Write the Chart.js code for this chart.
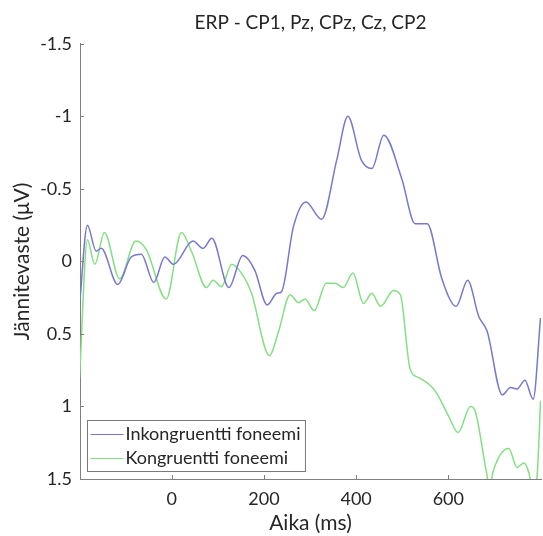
<!DOCTYPE html>
<html>
<head>
<meta charset="utf-8">
<script src="https://cdn.jsdelivr.net/npm/chart.js@4.4.1/dist/chart.umd.min.js"></script>
<style>
  html, body { margin: 0; padding: 0; background: #fff; }
  #wrap { width: 543px; height: 536px; }
</style>
</head>
<body>
<div id="wrap"><canvas id="erpChart" width="543" height="536"></canvas></div>
<script>
// Time (ms) and amplitude (uV), negative is up
const timeIncongruent = [-200, -183, -164, -153, -117, -88, -66, -39, -15, 4, 46, 68, 87, 124, 154, 180,
  207, 228, 238, 264, 291, 325, 358, 382, 411, 434, 460, 499, 528, 554, 586, 617, 642, 666, 684,
  717, 735, 749, 766, 784, 800];
const ampIncongruent = [0.30, -0.25, -0.07, -0.09, 0.16, -0.03, -0.05, 0.145, -0.03, 0.02, -0.14, -0.09, -0.16, 0.18, -0.04, 0.06,
  0.30, 0.22, 0.21, -0.24, -0.41, -0.29, -0.70, -1.0, -0.70, -0.64, -0.87, -0.57, -0.26, -0.26, 0.12, 0.31, 0.13, 0.38, 0.48,
  0.92, 0.87, 0.88, 0.82, 0.95, 0.39];

const timeCongruent = [-200, -183, -167, -146, -113, -78, -55, -12, 21, 44, 75, 90, 108, 130, 153, 173,
  212, 231, 257, 275, 289, 309, 335, 354, 372, 393, 416, 434, 453, 481, 496, 517, 535, 561, 575,
  601, 621, 648, 659, 683, 690, 697, 731, 749, 764, 775, 784, 793, 800];
const ampCongruent = [0.80, -0.15, 0.02, -0.20, 0.12, -0.14, -0.08, 0.26, -0.20, -0.06, 0.18, 0.13, 0.175, 0.02, 0.09, 0.22,
  0.65, 0.49, 0.23, 0.285, 0.26, 0.34, 0.15, 0.15, 0.18, 0.08, 0.29, 0.22, 0.31, 0.20, 0.23, 0.74, 0.80, 0.855, 0.91,
  1.07, 1.18, 1.0, 1.04, 1.46, 1.56, 1.45, 1.29, 1.42, 1.39, 1.46, 1.6, 1.46, 0.96];

const seriesLabels = ["Inkongruentti foneemi", "Kongruentti foneemi"];
const seriesColors = ["#7878cc", "#84df84"];
const xTickValues = [0, 200, 400, 600];
const yTickValues = [-1.5, -1, -0.5, 0, 0.5, 1, 1.5];

const FONT = "Lato, 'Open Sans', sans-serif";
const TEXT = "#262626";
const AXIS = "#808080";

function toPoints(xs, ys) {
  return xs.map((t, i) => ({ x: t, y: ys[i] }));
}

// MATLAB style ticks pointing into the plot
const inwardTicks = {
  id: "inwardTicks",
  afterDatasetsDraw(chart) {
    const { ctx, chartArea, scales } = chart;
    ctx.save();
    ctx.strokeStyle = AXIS;
    ctx.lineWidth = 1;
    ctx.beginPath();
    xTickValues.forEach((v) => {
      const px = Math.round(scales.x.getPixelForValue(v)) + 0.5;
      ctx.moveTo(px, chartArea.bottom);
      ctx.lineTo(px, chartArea.bottom - 4);
    });
    yTickValues.forEach((v) => {
      const py = Math.round(scales.y.getPixelForValue(v)) + 0.5;
      ctx.moveTo(chartArea.left, py);
      ctx.lineTo(chartArea.left + 4, py);
    });
    ctx.stroke();
    ctx.restore();
  },
};

// legend box in the lower left corner of the axes
const boxLegend = {
  id: "boxLegend",
  afterDraw(chart) {
    const { ctx, chartArea } = chart;
    const left = chartArea.left + 7.5;
    const bottom = chartArea.bottom - 7.5;
    const rowH = 23.5;
    ctx.save();
    ctx.font = "18px " + FONT;
    const textW = Math.max(...chart.data.datasets.map((d) => ctx.measureText(d.label).width));
    const w = 38 + textW + 5;
    const h = rowH * 2 + 4;
    const top = bottom - h;
    ctx.fillStyle = "#fff";
    ctx.fillRect(left, top, w, h);
    ctx.strokeStyle = "#7a7a7a";
    ctx.lineWidth = 1;
    ctx.strokeRect(left, top, w, h);
    chart.data.datasets.forEach((d, i) => {
      const cy = top + 2 + rowH * i + rowH / 2;
      ctx.strokeStyle = d.borderColor;
      ctx.lineWidth = 1;
      ctx.beginPath();
      ctx.moveTo(left + 3, Math.round(cy) + 0.5);
      ctx.lineTo(left + 36, Math.round(cy) + 0.5);
      ctx.stroke();
      ctx.fillStyle = TEXT;
      ctx.textBaseline = "middle";
      ctx.fillText(d.label, left + 38, cy);
    });
    ctx.restore();
  },
};

new Chart(document.getElementById("erpChart"), {
  type: "line",
  data: {
    datasets: [
      {
        label: seriesLabels[0],
        data: toPoints(timeIncongruent, ampIncongruent),
        borderColor: seriesColors[0],
        borderWidth: 1.5,
        pointRadius: 0,
        cubicInterpolationMode: "monotone",
        fill: false,
        clip: 0,
      },
      {
        label: seriesLabels[1],
        data: toPoints(timeCongruent, ampCongruent),
        borderColor: seriesColors[1],
        borderWidth: 1.5,
        pointRadius: 0,
        cubicInterpolationMode: "monotone",
        fill: false,
        clip: 0,
      },
    ],
  },
  options: {
    responsive: false,
    animation: false,
    devicePixelRatio: 1,
    layout: { padding: { left: 0, right: 2, top: 0, bottom: 0 } },
    plugins: {
      legend: { display: false },
      tooltip: { enabled: false },
      title: {
        display: true,
        fullSize: false,
        text: "ERP - CP1, Pz, CPz, Cz, CP2",
        color: TEXT,
        font: { family: FONT, size: 19, weight: "normal" },
        padding: { top: 11, bottom: 10 },
      },
    },
    scales: {
      x: {
        type: "linear",
        min: -199,
        max: 801,
        afterBuildTicks: (scale) => {
          scale.ticks = xTickValues.map((v) => ({ value: v }));
        },
        afterFit: (scale) => {
          scale.height = 57;
        },
        grid: { display: true, drawOnChartArea: false, drawTicks: false },
        border: { display: true, color: AXIS, width: 1 },
        ticks: { color: TEXT, font: { family: FONT, size: 18 }, padding: 9, maxRotation: 0 },
        title: {
          display: true,
          text: "Aika (ms)",
          color: TEXT,
          font: { family: FONT, size: 21 },
          padding: { top: 0, bottom: 0 },
        },
      },
      y: {
        type: "linear",
        reverse: true,
        min: -1.5,
        max: 1.5,
        afterBuildTicks: (scale) => {
          scale.ticks = yTickValues.map((v) => ({ value: v }));
        },
        afterFit: (scale) => {
          scale.width = 80;
        },
        grid: { display: true, drawOnChartArea: false, drawTicks: false },
        border: { display: true, color: AXIS, width: 1 },
        ticks: {
          color: TEXT,
          font: { family: FONT, size: 18 },
          padding: 8,
          callback: (v) => String(v),
        },
        title: {
          display: true,
          text: "Jännitevaste (μV)",
          color: TEXT,
          font: { family: FONT, size: 21 },
          padding: { top: 10, bottom: 0 },
        },
      },
    },
  },
  plugins: [inwardTicks, boxLegend],
});
</script>
</body>
</html>
